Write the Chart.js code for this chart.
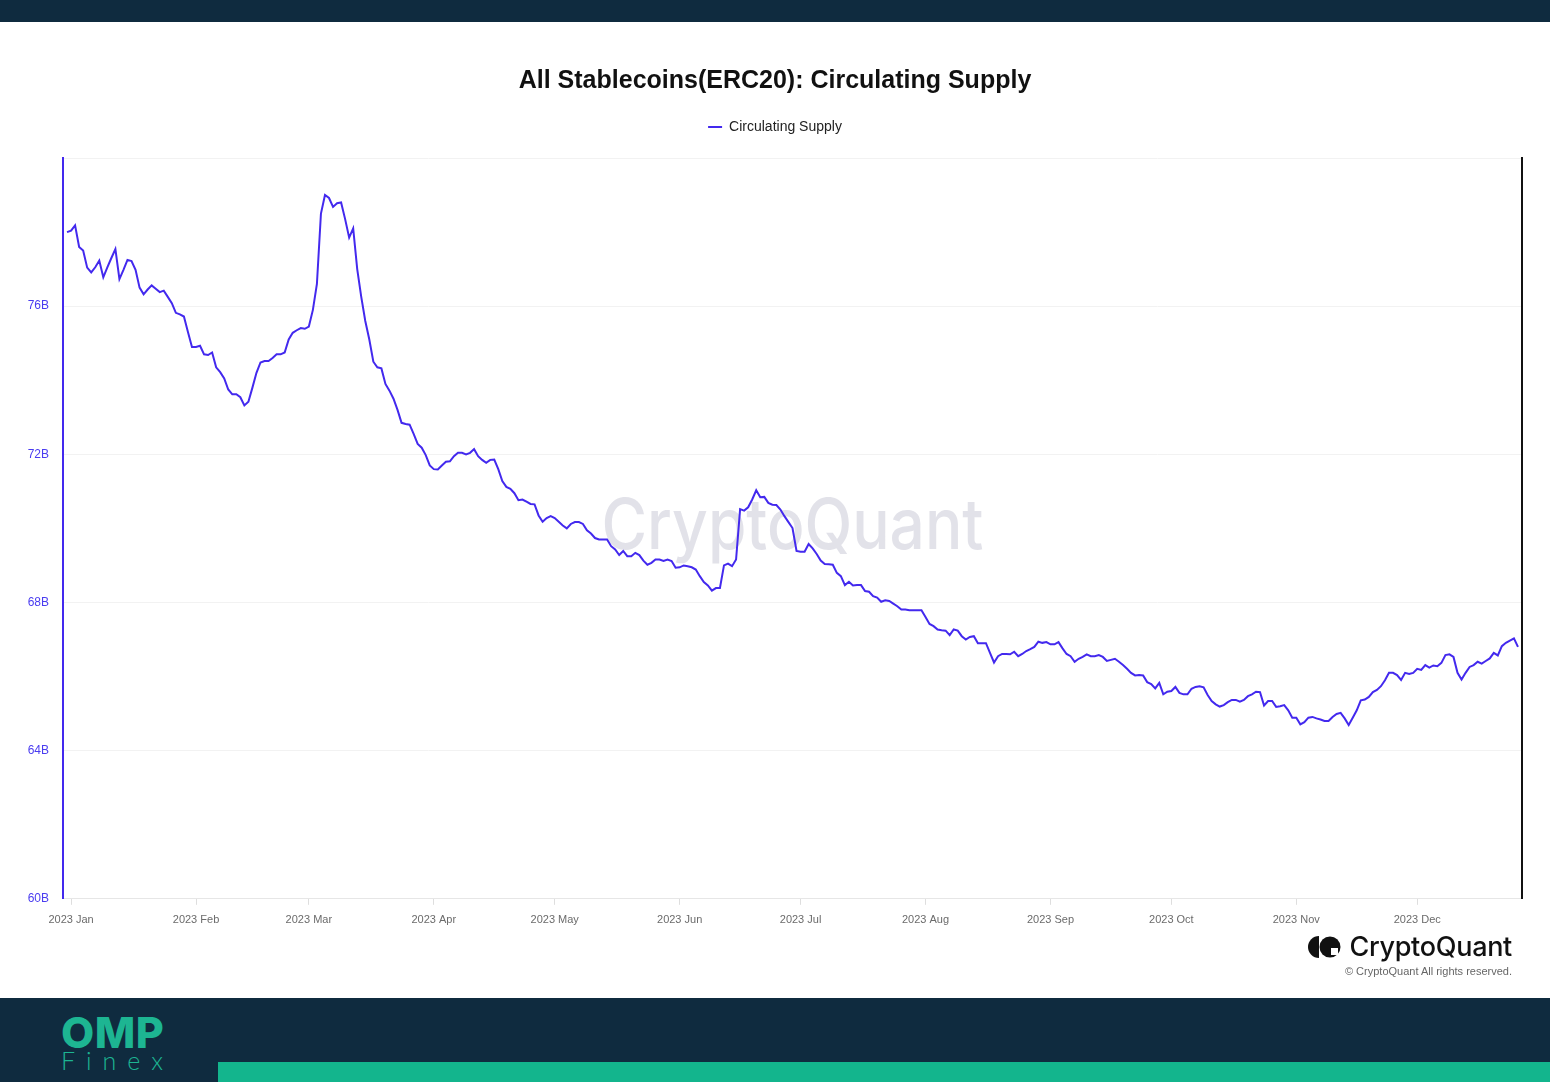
<!DOCTYPE html>
<html lang="en">
<head>
  <meta charset="UTF-8">
  <title>All Stablecoins(ERC20): Circulating Supply</title>
  <script src="https://cdn.jsdelivr.net/npm/chart.js"></script>
  <style>
    html, body { margin: 0; padding: 0; background: #fff; }
    body { width: 1550px; height: 1082px; position: relative; overflow: hidden; font-family: 'Liberation Sans', Arial, sans-serif; }
    .band-top { position: absolute; left: 0; top: 0; width: 1550px; height: 22px; background: #0f2b3f; }
    .band-bottom { position: absolute; left: 0; top: 998px; width: 1550px; height: 84px; background: #0f2b3f; }
    .teal-bar { position: absolute; left: 218px; top: 1062px; width: 1332px; height: 20px; background: #13b58d; }
    .omp { position: absolute; left: 61px; top: 1010px; color: #1db592; font-family: Inter, sans-serif; font-weight: 800; font-size: 43px; line-height: 44px; letter-spacing: 0.5px; }
    .finex { position: absolute; left: 61px; top: 1046px; color: #1db592; font-family: Lato, sans-serif; font-weight: 300; font-size: 25px; line-height: 28px; letter-spacing: 11px; }
    #wrap { position: absolute; left: 0; top: 22px; width: 1550px; height: 976px; }
    .cq { position: absolute; right: 38px; top: 930px; display: flex; align-items: center; }
    .cq span { font-family: Inter, sans-serif; font-weight: 500; font-size: 27px; color: #111; margin-left: 8px; letter-spacing: -0.3px; }
    .copy { position: absolute; right: 38px; top: 965px; font-size: 11px; color: #666; }
  </style>
</head>
<body>
  <div class="band-top"></div>
  <div id="wrap"><canvas id="supplyChart"></canvas></div>
  <div class="cq">
    <svg width="34" height="24" viewBox="0 0 34 24">
      <path d="M12 1 A11 11 0 0 0 12 23 Z" fill="#111"/>
      <circle cx="23" cy="12" r="10.5" fill="#111"/>
      <rect x="24" y="13" width="7" height="7" fill="#fff"/>
    </svg>
    <span>CryptoQuant</span>
  </div>
  <div class="copy">© CryptoQuant All rights reserved.</div>
  <div class="band-bottom"></div>
  <div class="teal-bar"></div>
  <div class="omp">OMP</div>
  <div class="finex">Finex</div>

  <script>
    // circulating supply in billions, one value per day
    const dec2022 = [78.0];
    const jan = [78.04, 78.18, 77.6, 77.5, 77.04, 76.91, 77.05, 77.23, 76.78, 77.05, 77.3, 77.54, 76.73, 76.98, 77.25, 77.22, 76.98, 76.5, 76.32, 76.45, 76.56, 76.47, 76.38, 76.42, 76.25, 76.08, 75.82, 75.78, 75.72, 75.3, 74.9];
    const feb = [74.9, 74.93, 74.7, 74.68, 74.75, 74.35, 74.22, 74.05, 73.75, 73.62, 73.62, 73.54, 73.32, 73.42, 73.8, 74.2, 74.48, 74.52, 74.52, 74.6, 74.7, 74.7, 74.75, 75.1, 75.28, 75.35, 75.41, 75.39];
    const mar = [75.45, 75.9, 76.6, 78.5, 79.0, 78.92, 78.68, 78.78, 78.8, 78.35, 77.85, 78.1, 77.0, 76.25, 75.6, 75.1, 74.5, 74.35, 74.32, 73.9, 73.72, 73.5, 73.2, 72.85, 72.82, 72.8, 72.55, 72.28, 72.18, 71.98, 71.7];
    const apr = [71.6, 71.59, 71.7, 71.8, 71.81, 71.95, 72.04, 72.04, 72.0, 72.04, 72.14, 71.95, 71.85, 71.77, 71.85, 71.86, 71.6, 71.28, 71.12, 71.07, 70.95, 70.76, 70.78, 70.72, 70.66, 70.65, 70.35, 70.18, 70.28, 70.33];
    const may = [70.28, 70.18, 70.08, 70.0, 70.12, 70.17, 70.17, 70.12, 69.95, 69.86, 69.74, 69.7, 69.7, 69.7, 69.52, 69.43, 69.28, 69.39, 69.25, 69.25, 69.34, 69.28, 69.13, 69.02, 69.07, 69.16, 69.16, 69.12, 69.16, 69.12, 68.94];
    const jun = [68.95, 69.0, 68.98, 68.95, 68.89, 68.71, 68.55, 68.46, 68.32, 68.39, 68.39, 69.0, 69.05, 68.98, 69.16, 70.52, 70.48, 70.57, 70.78, 71.03, 70.84, 70.85, 70.69, 70.64, 70.63, 70.51, 70.33, 70.17, 70.01, 69.39];
    const jul = [69.37, 69.37, 69.58, 69.46, 69.31, 69.13, 69.04, 69.03, 69.02, 68.8, 68.71, 68.47, 68.56, 68.46, 68.47, 68.47, 68.31, 68.29, 68.17, 68.13, 68.02, 68.06, 68.04, 67.97, 67.9, 67.81, 67.81, 67.79, 67.79, 67.79, 67.79];
    const aug = [67.61, 67.42, 67.36, 67.27, 67.25, 67.24, 67.12, 67.27, 67.24, 67.09, 67.0, 67.07, 67.09, 66.9, 66.9, 66.9, 66.64, 66.38, 66.55, 66.61, 66.61, 66.6, 66.67, 66.55, 66.61, 66.69, 66.74, 66.8, 66.94, 66.91, 66.93];
    const sep = [66.87, 66.87, 66.93, 66.76, 66.61, 66.55, 66.4, 66.48, 66.53, 66.6, 66.55, 66.55, 66.58, 66.53, 66.42, 66.45, 66.48, 66.4, 66.31, 66.21, 66.1, 66.03, 66.04, 66.03, 65.85, 65.8, 65.68, 65.83, 65.52, 65.59];
    const oct = [65.61, 65.72, 65.56, 65.52, 65.52, 65.67, 65.72, 65.74, 65.71, 65.5, 65.34, 65.25, 65.19, 65.23, 65.31, 65.37, 65.37, 65.32, 65.37, 65.47, 65.52, 65.59, 65.58, 65.22, 65.34, 65.34, 65.18, 65.2, 65.23, 65.09, 64.89];
    const nov = [64.89, 64.71, 64.77, 64.89, 64.91, 64.87, 64.84, 64.8, 64.8, 64.91, 64.99, 65.02, 64.87, 64.69, 64.89, 65.09, 65.36, 65.38, 65.45, 65.58, 65.64, 65.74, 65.9, 66.1, 66.1, 66.04, 65.91, 66.1, 66.07, 66.1];
    const dec = [66.21, 66.18, 66.31, 66.24, 66.3, 66.28, 66.37, 66.58, 66.6, 66.53, 66.1, 65.92, 66.1, 66.26, 66.31, 66.4, 66.35, 66.42, 66.49, 66.64, 66.57, 66.82, 66.91, 66.97, 67.03, 66.8];

    const months2023 = [jan, feb, mar, apr, may, jun, jul, aug, sep, oct, nov, dec];
    const monthLabels = ['2023 Jan', '2023 Feb', '2023 Mar', '2023 Apr', '2023 May', '2023 Jun', '2023 Jul', '2023 Aug', '2023 Sep', '2023 Oct', '2023 Nov', '2023 Dec'];
    const yTicks = [60, 64, 68, 72, 76, 80];

    // x = day number from 2023-01-01 (Dec 31 2022 is -1)
    const points = [];
    dec2022.forEach((v, i) => points.push({ x: i - dec2022.length, y: v }));
    const monthStarts = [];
    let day = 0;
    months2023.forEach(m => {
      monthStarts.push(day);
      m.forEach(v => { points.push({ x: day, y: v }); day++; });
    });

    const lineColor = '#4329ee';

    const watermark = {
      id: 'watermark',
      beforeDatasetsDraw(chart) {
        const { ctx, chartArea } = chart;
        ctx.save();
        ctx.font = '500 70px Inter, sans-serif';
        ctx.fillStyle = 'rgba(208, 208, 220, 0.62)';
        ctx.textAlign = 'center';
        ctx.textBaseline = 'alphabetic';
        ctx.fillText('CryptoQuant', (chartArea.left + chartArea.right) / 2, chartArea.top + 391, 382);
        ctx.restore();
      }
    };

    const legendSpacing = {
      id: 'legendSpacing',
      beforeInit(chart) {
        const fit = chart.legend.fit;
        chart.legend.fit = function () { fit.call(this); this.height += 14; };
      }
    };

    Chart.defaults.font.family = "'Liberation Sans', Arial, sans-serif";

    new Chart(document.getElementById('supplyChart'), {
      type: 'line',
      data: {
        datasets: [{
          label: 'Circulating Supply',
          data: points,
          borderColor: lineColor,
          backgroundColor: lineColor,
          borderWidth: 2,
          pointRadius: 0,
          tension: 0
        }]
      },
      options: {
        responsive: true,
        maintainAspectRatio: false,
        animation: false,
        layout: { padding: { bottom: 62 } },
        plugins: {
          title: {
            display: true,
            text: 'All Stablecoins(ERC20): Circulating Supply',
            color: '#111',
            font: { size: 25, weight: 'bold' },
            padding: { top: 44, bottom: 14 }
          },
          legend: {
            labels: {
              usePointStyle: true,
              pointStyle: 'line',
              pointStyleWidth: 14,
              color: '#222',
              font: { size: 14 }
            }
          },
          tooltip: { enabled: false }
        },
        scales: {
          x: {
            type: 'linear',
            min: -2,
            max: 360,
            afterBuildTicks: s => { s.ticks = monthStarts.map(v => ({ value: v })); },
            ticks: {
              autoSkip: false,
              maxRotation: 0,
              padding: 9,
              color: '#6b6b6b',
              font: { size: 11 },
              callback: (v, i) => monthLabels[i]
            },
            grid: { drawOnChartArea: false, drawTicks: true, tickLength: 6, color: '#dedede' },
            border: { color: '#e6e6e6', width: 1 }
          },
          y: {
            min: 60,
            max: 80,
            afterBuildTicks: s => { s.ticks = yTicks.map(v => ({ value: v })); },
            afterFit: s => { s.width = 63; },
            ticks: {
              padding: 14,
              color: '#4a3cf0',
              font: { size: 12 },
              callback: v => (v === 80 ? '' : v + 'B')
            },
            grid: { color: '#f2f2f2', drawTicks: false },
            border: { color: lineColor, width: 2 }
          },
          y2: {
            axis: 'y',
            position: 'right',
            afterFit: s => { s.width = 28; },
            ticks: { display: false },
            grid: { display: false, drawTicks: false },
            border: { color: '#111', width: 2 }
          }
        }
      },
      plugins: [watermark, legendSpacing]
    });
  </script>
</body>
</html>
